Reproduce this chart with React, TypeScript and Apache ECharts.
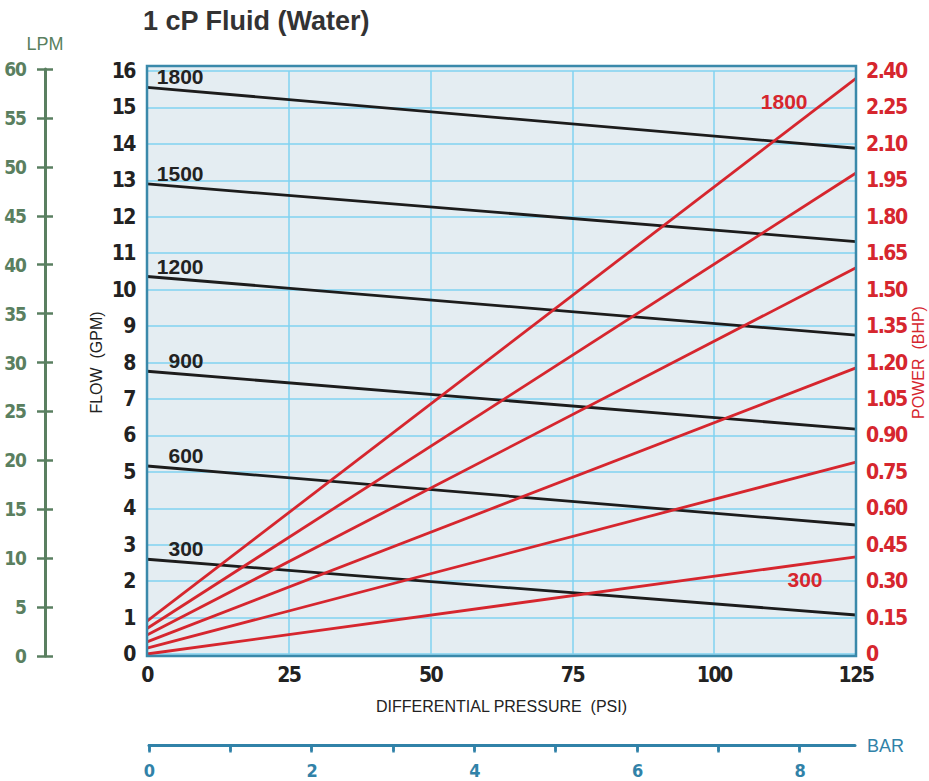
import React, { useEffect, useRef } from 'react';
import * as echarts from 'echarts';

// ---- data ----
const rpmLabels = ['300', '600', '900', '1200', '1500', '1800'];
const pressurePsi = [0, 125];
const flowAtZeroPsi = [2.6, 5.16, 7.76, 10.36, 12.9, 15.55];
const flowAtMaxPsi = [1.07, 3.54, 6.17, 8.75, 11.32, 13.88];
const powerAtZeroPsi = [0.0, 0.024, 0.05, 0.078, 0.105, 0.135];
const powerAtMaxPsi = [0.4, 0.79, 1.178, 1.59, 1.98, 2.37];
const barTicks = [0, 1, 2, 3, 4, 5, 6, 7, 8];
const barLabels = [0, 2, 4, 6, 8];

// ---- styles ----
const narrow = (ls: number) => `"DejaVu Sans", sans-serif;font-stretch:condensed;letter-spacing:${ls}px`;
const REG = '"Liberation Sans", Arial, sans-serif';
const GREEN = '#5a7f60';
const TEAL = '#3182a8';
const FRAME = '#3a89aa';
const GRIDC = '#80d2f0';
const BG = '#e4edf2';
const RED = '#d6262e';
const BLACK = '#1c1c1c';
const TXT = '#222222';

export default function App() {
  const ref = useRef<HTMLDivElement>(null);
  useEffect(() => {
    if (!ref.current) return;
    const chart = echarts.init(ref.current, null, { renderer: 'svg' });

    const series: any[] = [];
    rpmLabels.forEach((rpm, i) => {
      series.push({
        type: 'line',
        xAxisIndex: 0,
        yAxisIndex: 0,
        silent: true,
        symbol: 'circle',
        symbolSize: 1,
        itemStyle: { color: 'rgba(0,0,0,0)' },
        lineStyle: { color: BLACK, width: 2.8 },
        data: [
          {
            value: [pressurePsi[0], flowAtZeroPsi[i]],
            label: {
              show: true,
              formatter: rpm,
              position: [57, -10],
              align: 'right',
              verticalAlign: 'middle',
              color: TXT,
              fontSize: 21,
              fontWeight: 'bold',
              fontFamily: REG,
            },
          },
          [pressurePsi[1], flowAtMaxPsi[i]],
        ],
      });
    });
    const redLabelOffsets: Record<string, number[]> = { '1800': [-48, 24], '300': [-33, 23] };
    rpmLabels.forEach((rpm, i) => {
      const off = redLabelOffsets[rpm];
      series.push({
        type: 'line',
        xAxisIndex: 0,
        yAxisIndex: 1,
        silent: true,
        symbol: 'circle',
        symbolSize: 1,
        itemStyle: { color: 'rgba(0,0,0,0)' },
        lineStyle: { color: RED, width: 2.8 },
        data: [
          [pressurePsi[0], powerAtZeroPsi[i]],
          off
            ? {
                value: [pressurePsi[1], powerAtMaxPsi[i]],
                label: {
                  show: true,
                  formatter: rpm,
                  position: off,
                  align: 'right',
                  verticalAlign: 'middle',
                  color: RED,
                  fontSize: 21,
                  fontWeight: 'bold',
                  fontFamily: REG,
                },
              }
            : [pressurePsi[1], powerAtMaxPsi[i]],
        ],
      });
    });

    const option: any = {
      animation: false,
      textStyle: { fontFamily: REG },
      grid: [
        { left: 147, right: 73, top: 71, bottom: 127, outerBoundsMode: 'none', containLabel: false },
        { left: 149, right: 74, top: 744, height: 1.5, outerBoundsMode: 'none', containLabel: false },
        { left: 45, width: 1, top: 69, height: 587, outerBoundsMode: 'none', containLabel: false },
      ],
      graphic: [
        {
          type: 'rect',
          z: -10,
          shape: { x: 147, y: 66, width: 709, height: 590 },
          style: { fill: BG },
        },
        {
          type: 'rect',
          z: 100,
          shape: { x: 147, y: 66, width: 709, height: 590 },
          style: { fill: 'none', stroke: FRAME, lineWidth: 2.5 },
        },
        {
          type: 'text',
          x: 143,
          y: 21,
          style: {
            text: '1 cP Fluid (Water)',
            fill: '#333333',
            font: 'bold 27px "Liberation Sans", Arial, sans-serif',
            textVerticalAlign: 'middle',
            verticalAlign: 'middle',
          },
        },
      ],
      xAxis: [
        {
          gridIndex: 0,
          type: 'value',
          min: 0,
          max: 125,
          interval: 25,
          axisLine: { show: false },
          axisTick: { show: false },
          splitLine: { show: true, lineStyle: { color: GRIDC, width: 1.5 } },
          axisLabel: { fontFamily: narrow(-1.5), fontWeight: 'bold', color: TXT, fontSize: 21, margin: 16 },
          name: 'DIFFERENTIAL PRESSURE  (PSI)',
          nameLocation: 'middle',
          nameGap: 44,
          nameTextStyle: { color: TXT, fontSize: 16, fontFamily: REG },
        },
        {
          gridIndex: 1,
          type: 'value',
          min: 0,
          max: 8.68,
          axisLine: { show: true, lineStyle: { color: TEAL, width: 3 } },
          axisTick: { show: true, length: 7, customValues: barTicks, lineStyle: { color: TEAL, width: 2.5 } },
          axisLabel: {
            fontFamily: narrow(-1),
            fontWeight: 'bold',
            customValues: barLabels,
            color: TEAL,
            fontSize: 18,
            margin: 17,
          },
          splitLine: { show: false },
          name: 'BAR',
          nameLocation: 'end',
          nameGap: 12,
          nameTextStyle: { color: TEAL, fontSize: 18, fontFamily: REG },
        },
        {
          gridIndex: 1,
          type: 'value',
          min: 0,
          max: 8.68,
          axisLine: { show: false },
          axisTick: { show: true, inside: true, length: 7, customValues: barTicks, lineStyle: { color: TEAL, width: 2.5 } },
          axisLabel: { show: false },
          splitLine: { show: false },
        },
        { gridIndex: 2, type: 'value', show: false, min: 0, max: 1 },
      ],
      yAxis: [
        {
          gridIndex: 0,
          type: 'value',
          position: 'left',
          min: 0,
          max: 16,
          interval: 1,
          axisLine: { show: false },
          axisTick: { show: false },
          splitLine: { show: true, lineStyle: { color: GRIDC, width: 1.5 } },
          axisLabel: { fontFamily: narrow(-1.5), fontWeight: 'bold', color: TXT, fontSize: 21, margin: 12 },
          name: 'FLOW  (GPM)',
          nameLocation: 'middle',
          nameGap: 43,
          nameTextStyle: { color: TXT, fontSize: 16, fontFamily: REG },
        },
        {
          gridIndex: 0,
          type: 'value',
          position: 'right',
          min: 0,
          max: 2.4,
          interval: 0.15,
          axisLine: { show: false },
          axisTick: { show: false },
          splitLine: { show: false },
          axisLabel: {
            fontFamily: narrow(-1.5),
            fontWeight: 'bold',
            color: RED,
            fontSize: 21,
            margin: 10,
            formatter: (v: number) => (Math.abs(v) < 1e-9 ? '0' : v.toFixed(2)),
          },
          name: 'POWER  (BHP)',
          nameLocation: 'middle',
          nameGap: 54,
          nameTextStyle: { color: RED, fontSize: 16, fontFamily: REG },
        },
        {
          gridIndex: 2,
          type: 'value',
          position: 'left',
          min: 0,
          max: 60,
          interval: 5,
          axisLine: { show: true, lineStyle: { color: GREEN, width: 3 } },
          axisTick: { show: true, length: 8, lineStyle: { color: GREEN, width: 2.5 } },
          axisLabel: { fontFamily: narrow(-1), fontWeight: 'bold', color: GREEN, fontSize: 19, margin: 19 },
          splitLine: { show: false },
          name: 'LPM',
          nameLocation: 'end',
          nameGap: 16,
          nameTextStyle: { color: GREEN, fontSize: 18, fontFamily: REG, align: 'center' },
        },
        {
          gridIndex: 2,
          type: 'value',
          position: 'left',
          min: 0,
          max: 60,
          interval: 5,
          axisLine: { show: false },
          axisTick: { show: true, inside: true, length: 8, lineStyle: { color: GREEN, width: 2.5 } },
          axisLabel: { show: false },
          splitLine: { show: false },
        },
        { gridIndex: 1, type: 'value', show: false, min: 0, max: 1 },
      ],
      series,
    };
    chart.setOption(option);
    return () => chart.dispose();
  }, []);

  return (
    <div
      ref={ref}
      style={{ position: 'fixed', left: 0, top: 0, width: 929, height: 781, background: '#ffffff' }}
    />
  );
}
